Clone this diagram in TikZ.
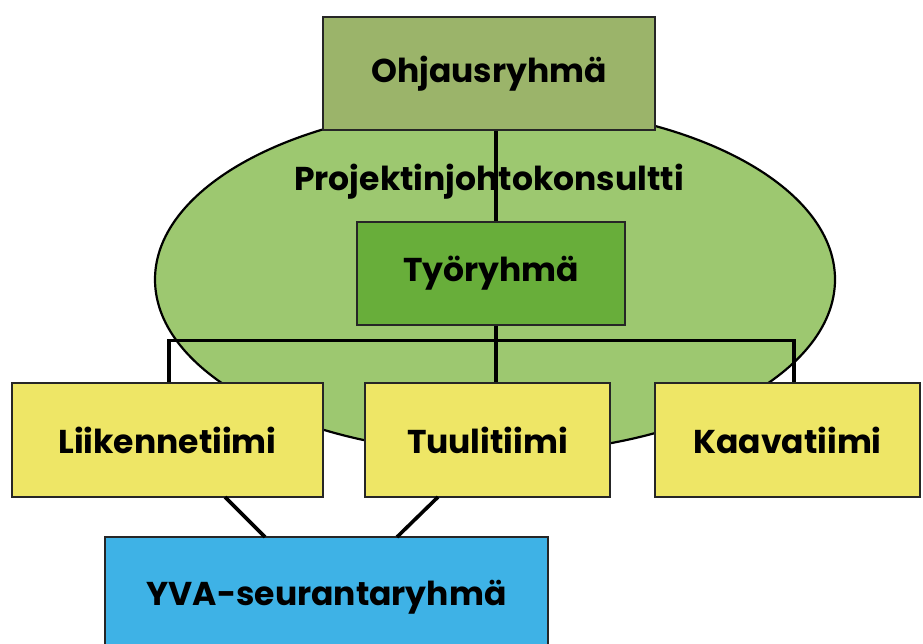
\documentclass[tikz,border=0pt]{standalone}
\usepackage{fontspec}
\setmainfont{Poppins}
\usetikzlibrary{shapes.geometric}
\definecolor{ohj}{RGB}{155,180,106}
\definecolor{ell}{RGB}{157,200,112}
\definecolor{tyo}{RGB}{104,174,58}
\definecolor{yel}{RGB}{238,230,102}
\definecolor{blu}{RGB}{62,178,230}
\tikzset{
  lbl/.style={font=\fontsize{33}{37}\selectfont\bfseries},
  box/.style={draw=black!85, line width=2.2pt, inner sep=0pt, lbl},
  conn/.style={draw=black, line width=3.6pt},
}
\begin{document}
\begin{tikzpicture}[x=1pt,y=-1pt]
\useasboundingbox (0,0) rectangle (923,643);
\fill[white] (0,0) rectangle (923,643);
% ellipse
\node[ellipse, draw=black, line width=2.2pt, fill=ell, minimum width=680pt, minimum height=348pt, inner sep=0pt] (proj) at (495,279.5) {};
\node[lbl] (projt) at (489,182) {Projektinjohtokonsultti};
% boxes
\node[box, fill=ohj, minimum width=332pt, minimum height=113pt] (ohjaus) at (489,73.5) {Ohjausryhmä};
\node[box, fill=tyo, minimum width=268pt, minimum height=103pt] (tyo) at (491,273.5) {Työryhmä};
\node[box, fill=yel, minimum width=311pt, minimum height=114pt] (liik) at (167.5,440) {Liikennetiimi};
\node[box, fill=yel, minimum width=265pt, minimum height=114pt] (kaava) at (787.5,440) {Kaavatiimi};
\node[box, fill=yel, minimum width=245pt, minimum height=114pt] (tuuli) at (487.5,440) {Tuulitiimi};
\node[box, fill=blu, minimum width=443pt, minimum height=120pt] (yva) at (326.5,597) {YVA-seurantaryhmä};
% connectors
\coordinate (bus) at (496,340.5);
\coordinate (busL) at (169,340.5);
\coordinate (busR) at (794,340.5);
\draw[conn] (ohjaus.south -| bus) -- (tyo.north -| bus);
\draw[conn] (tyo.south -| bus) -- (tuuli.north -| bus);
\draw[conn] (busL |- liik.north) -- (busL) -- (busR) -- (busR |- kaava.north);
\draw[conn] (225,497) coordinate (l1) -- (265,537) coordinate (y1);
\draw[conn] (438,497) coordinate (t1) -- (397,537) coordinate (y2);
\end{tikzpicture}
\end{document}
